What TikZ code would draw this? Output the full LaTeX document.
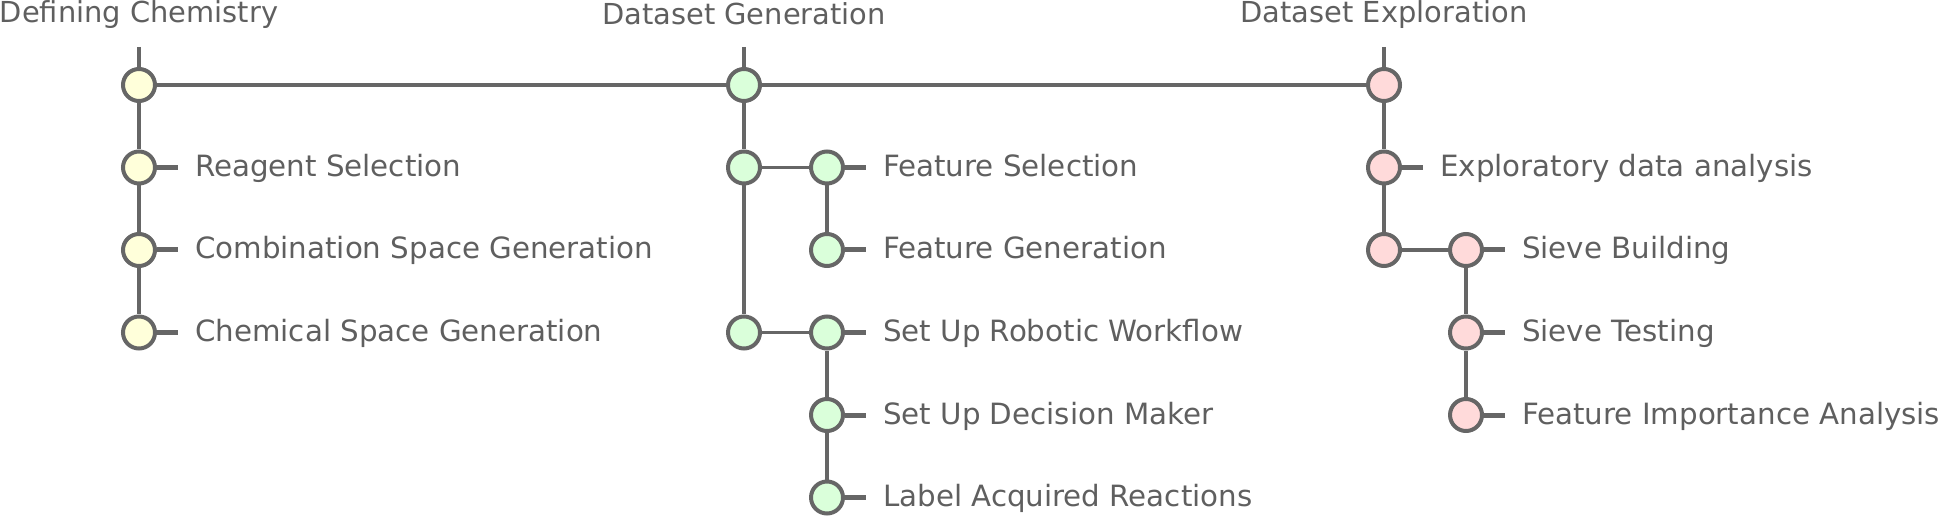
\documentclass[tikz,border=0pt]{standalone}
\usepackage{fontspec}
\setmainfont{DejaVu Sans}
\definecolor{linegray}{HTML}{666666}
\definecolor{textgray}{HTML}{5F5F5F}
\definecolor{yfill}{HTML}{FFFFDA}
\definecolor{gfill}{HTML}{DAFFDA}
\definecolor{rfill}{HTML}{FFDADA}
\begin{document}
\begin{tikzpicture}[x=1pt,y=-1pt,
  dot/.style={circle,draw=linegray,line width=4pt,fill=#1,minimum size=32pt,inner sep=0pt},
  link/.style={draw=linegray,line width=3.5pt},
  stub/.style={draw=linegray,line width=5pt},
  lbl/.style={anchor=base west,inner sep=0pt,text=textgray,font=\fontsize{29.3}{35}\selectfont},
  title/.style={anchor=base,inner sep=0pt,text=textgray,font=\fontsize{28.9}{35}\selectfont}]
\useasboundingbox (0,0) rectangle (1945,518);
% titles
\node[title] (ta) at (139,23) {Defining Chemistry};
\node[title] (tb) at (744,25) {Dataset Generation};
\node[title] (tc) at (1384,23) {Dataset Exploration};
\coordinate (ka) at (139,47);
\coordinate (kb) at (744,47);
\coordinate (kc) at (1384,47);
% defining chemistry
\node[dot=yfill] (a0) at (139,85) {};
\node[dot=yfill] (a1) at (139,167.5) {};
\node[dot=yfill] (a2) at (139,250) {};
\node[dot=yfill] (a3) at (139,332.5) {};
% dataset generation
\node[dot=gfill] (b0) at (744,85) {};
\node[dot=gfill] (b1) at (744,167.5) {};
\node[dot=gfill] (b2) at (744,332.5) {};
\node[dot=gfill] (b11) at (827,167.5) {};
\node[dot=gfill] (b12) at (827,250) {};
\node[dot=gfill] (b21) at (827,332.5) {};
\node[dot=gfill] (b22) at (827,415) {};
\node[dot=gfill] (b23) at (827,497.5) {};
% dataset exploration
\node[dot=rfill] (c0) at (1384,85) {};
\node[dot=rfill] (c1) at (1384,167.5) {};
\node[dot=rfill] (c2) at (1384,250) {};
\node[dot=rfill] (c21) at (1466,250) {};
\node[dot=rfill] (c22) at (1466,332.5) {};
\node[dot=rfill] (c23) at (1466,415) {};
% connectors
\draw[link] (ka) -- (a0) -- (a1) -- (a2) -- (a3);
\draw[link] (kb) -- (b0) -- (b1) -- (b2);
\draw[link] (kc) -- (c0) -- (c1) -- (c2);
\draw[link] (a0) -- (b0) -- (c0);
\draw[link] (b1) -- (b11) -- (b12);
\draw[link] (b2) -- (b21) -- (b22) -- (b23);
\draw[link] (c2) -- (c21) -- (c22) -- (c23);
% leaves
\foreach \n/\t in {a1/Reagent Selection, a2/Combination Space Generation,
    a3/Chemical Space Generation, b11/Feature Selection, b12/Feature Generation,
    b21/Set Up Robotic Workflow, b22/Set Up Decision Maker,
    b23/Label Acquired Reactions, c1/Exploratory data analysis,
    c21/Sieve Building, c22/Sieve Testing, c23/Feature Importance Analysis} {
  \coordinate (\n-end) at ([xshift=39pt]\n.center);
  \draw[stub] (\n) -- (\n-end);
  \node[lbl] (\n-lbl) at ([xshift=56pt,yshift=-9pt]\n.center) {\t};
}
\end{tikzpicture}
\end{document}
